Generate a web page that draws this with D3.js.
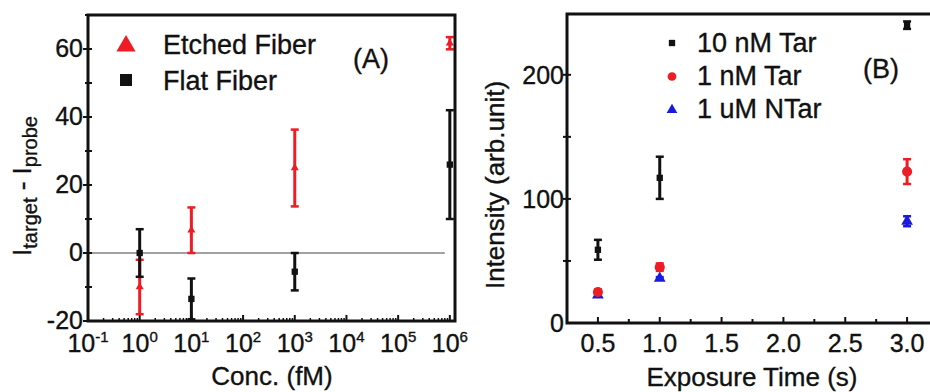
<!doctype html>
<html lang="en">
  <head>
    <meta charset="UTF-8"/>
    <title>Fiber sensor</title>
    <script src="https://cdnjs.cloudflare.com/ajax/libs/d3/7.8.5/d3.min.js"></script>
    <style>
      body { margin: 0; background: #fff; }
      svg text { font-family: "Liberation Sans", Arial, sans-serif; fill: #111; stroke: #111; stroke-width: 0.35; }
    </style>
  </head>
  <body>
    <svg id="chart" width="930" height="392"></svg>
    <script>
      // panel A : conc (fM) vs Itarget - Iprobe
      var concs = [1, 10, 1000, 1000000];
      var etchedMean = [-10, 6.7, 25, 61.7];
      var etchedErr = [8, 6.7, 11.3, 1.8];
      var flatMean = [0, -13.5, -5.5, 26];
      var flatErr = [7, 6, 5.5, 16];
      var decadeTicks = [-1, 0, 1, 2, 3, 4, 5, 6];
      var yTicksA = [-20, 0, 20, 40, 60];

      // panel B : exposure time vs intensity
      var times = [0.5, 1.0, 3.0];
      var tar10Mean = [59, 117, 240];
      var tar10Err = [8, 17, 3];
      var tar1Mean = [25, 45, 122];
      var tar1Err = [2, 3, 10];
      var ntarMean = [22.5, 36, 82];
      var ntarErr = [1, 1, 4];
      var xTicksB = [0.5, 1.0, 1.5, 2.0, 2.5, 3.0];
      var yTicksB = [0, 100, 200];

      var svg = d3.select("#chart");
      var RED = "#ee1c24", BLUE = "#1a1adf", BLACK = "#111";
      var TICK_FS = 25, TITLE_FS = 26, LEG_FS = 27;

      // ---------- panel A ----------
      var xA = d3.scaleLog().domain([0.1, Math.pow(10, 6.1)]).range([88, 455]);
      var yA = d3.scaleLinear().domain([-20, 70]).range([321, 15]);
      var gA = svg.append("g");

      // zero line
      gA.append("line")
        .attr("x1", xA(0.1)).attr("x2", xA(8e5))
        .attr("y1", yA(0)).attr("y2", yA(0))
        .attr("stroke", "#444").attr("stroke-width", 1.2);

      // minor x ticks (inward)
      var minorA = [];
      for (var k = -1; k <= 5; k++) for (var m = 2; m <= 9; m++) minorA.push(m * Math.pow(10, k));
      gA.selectAll(".mxa").data(minorA).enter().append("line")
        .attr("x1", d => xA(d)).attr("x2", d => xA(d))
        .attr("y1", yA(-20)).attr("y2", yA(-20) - 3)
        .attr("stroke", BLACK).attr("stroke-width", 1.5);
      gA.selectAll(".jxa").data(decadeTicks).enter().append("line")
        .attr("x1", d => xA(Math.pow(10, d))).attr("x2", d => xA(Math.pow(10, d)))
        .attr("y1", yA(-20)).attr("y2", yA(-20) - 6)
        .attr("stroke", BLACK).attr("stroke-width", 2);

      // y ticks (crossing)
      gA.selectAll(".ya").data(d3.range(-20, 71, 10)).enter().append("line")
        .attr("x1", d => d % 20 == 0 ? xA.range()[0] - 5 : xA.range()[0] - 3)
        .attr("x2", d => xA.range()[0] + 4)
        .attr("y1", d => yA(d)).attr("y2", d => yA(d))
        .attr("stroke", BLACK).attr("stroke-width", 2);

      // x tick labels 10^n
      var xlab = gA.selectAll(".xla").data(decadeTicks).enter().append("text")
        .attr("x", d => xA(Math.pow(10, d))).attr("y", 352)
        .attr("text-anchor", "middle").attr("font-size", TICK_FS);
      xlab.append("tspan").text("10");
      xlab.append("tspan").attr("dy", -10).attr("font-size", 15).text(d => String(d));

      gA.selectAll(".yla").data(yTicksA).enter().append("text")
        .attr("x", 83).attr("y", d => yA(d) + 8)
        .attr("text-anchor", "end").attr("font-size", TICK_FS)
        .text(d => d);

      function errorBars(g, xs, means, errs, xs_, ys_, color, cap) {
        var data = xs.map((x, i) => ({x: x, m: means[i], e: errs[i]}));
        g.selectAll(null).data(data).enter().append("line")
          .attr("x1", d => xs_(d.x)).attr("x2", d => xs_(d.x))
          .attr("y1", d => ys_(d.m - d.e)).attr("y2", d => ys_(d.m + d.e))
          .attr("stroke", color).attr("stroke-width", 3);
        [-1, 1].forEach(s => {
          g.selectAll(null).data(data).enter().append("line")
            .attr("x1", d => xs_(d.x) - cap).attr("x2", d => xs_(d.x) + cap)
            .attr("y1", d => ys_(d.m + s * d.e)).attr("y2", d => ys_(d.m + s * d.e))
            .attr("stroke", color).attr("stroke-width", 2.5);
        });
        return data;
      }

      var tri = d3.symbol().type(d3.symbolTriangle);
      var sq = d3.symbol().type(d3.symbolSquare);
      var circ = d3.symbol().type(d3.symbolCircle);

      var eData = errorBars(gA, concs, etchedMean, etchedErr, xA, yA, RED, 4);
      gA.selectAll(null).data(eData).enter().append("path")
        .attr("d", tri.size(28))
        .attr("transform", d => "translate(" + xA(d.x) + "," + yA(d.m) + ")")
        .attr("fill", RED);
      var fData = errorBars(gA, concs, flatMean, flatErr, xA, yA, BLACK, 4);
      gA.selectAll(null).data(fData).enter().append("path")
        .attr("d", sq.size(40))
        .attr("transform", d => "translate(" + xA(d.x) + "," + yA(d.m) + ")")
        .attr("fill", BLACK);

      // frame
      gA.append("rect")
        .attr("x", xA.range()[0]).attr("y", yA.range()[1])
        .attr("width", xA.range()[1] - xA.range()[0])
        .attr("height", yA.range()[0] - yA.range()[1])
        .attr("fill", "none").attr("stroke", BLACK).attr("stroke-width", 3);

      // legend A
      gA.append("path").attr("d", tri.size(160))
        .attr("transform", "translate(126,46)").attr("fill", RED);
      gA.append("rect").attr("x", 120).attr("y", 74).attr("width", 12).attr("height", 12).attr("fill", BLACK);
      gA.append("text").attr("x", 163).attr("y", 54).attr("font-size", LEG_FS).text("Etched Fiber");
      gA.append("text").attr("x", 163).attr("y", 90).attr("font-size", LEG_FS).text("Flat Fiber");
      gA.append("text").attr("x", 353).attr("y", 68).attr("font-size", LEG_FS).text("(A)");

      var yt = gA.append("text")
        .attr("transform", "translate(31,186) rotate(-90)")
        .attr("text-anchor", "middle").attr("font-size", TITLE_FS);
      yt.append("tspan").text("I");
      yt.append("tspan").attr("dy", 6).attr("font-size", 20).text("target");
      yt.append("tspan").attr("dy", -6).text(" - I");
      yt.append("tspan").attr("dy", 6).attr("font-size", 20).text("probe");

      gA.append("text").attr("x", 272).attr("y", 385)
        .attr("text-anchor", "middle").attr("font-size", TITLE_FS).text("Conc. (fM)");

      // ---------- panel B ----------
      var xB = d3.scaleLinear().domain([0.25, 3.25]).range([567, 938]);
      var yB = d3.scaleLinear().domain([0, 249]).range([323, 14]);
      var gB = svg.append("g");

      gB.selectAll(".mxb").data(d3.range(0.5, 3.01, 0.25)).enter().append("line")
        .attr("x1", d => xB(d)).attr("x2", d => xB(d))
        .attr("y1", yB(0)).attr("y2", d => Math.abs(d * 2 - Math.round(d * 2)) < 1e-6 ? yB(0) - 6 : yB(0) - 4)
        .attr("stroke", BLACK).attr("stroke-width", 2);
      gB.selectAll(".myb").data([50, 100, 150, 200]).enter().append("line")
        .attr("x1", xB.range()[0] - 4).attr("x2", xB.range()[0] + 4)
        .attr("y1", d => yB(d)).attr("y2", d => yB(d))
        .attr("stroke", BLACK).attr("stroke-width", 2);

      gB.selectAll(".xlb").data(xTicksB).enter().append("text")
        .attr("x", d => xB(d)).attr("y", 352)
        .attr("text-anchor", "middle").attr("font-size", TICK_FS)
        .text(d => d.toFixed(1));
      gB.selectAll(".ylb").data(yTicksB).enter().append("text")
        .attr("x", 564).attr("y", d => yB(d) + 9)
        .attr("text-anchor", "end").attr("font-size", TICK_FS)
        .text(d => d);

      var d10 = errorBars(gB, times, tar10Mean, tar10Err, xB, yB, BLACK, 4);
      gB.selectAll(null).data(d10).enter().append("path")
        .attr("d", sq.size(40))
        .attr("transform", d => "translate(" + xB(d.x) + "," + yB(d.m) + ")").attr("fill", BLACK);
      var dN = errorBars(gB, times, ntarMean, ntarErr, xB, yB, BLUE, 4);
      gB.selectAll(null).data(dN).enter().append("path")
        .attr("d", tri.size(60))
        .attr("transform", d => "translate(" + xB(d.x) + "," + yB(d.m) + ")").attr("fill", BLUE);
      var d1 = errorBars(gB, times, tar1Mean, tar1Err, xB, yB, RED, 4);
      gB.selectAll(null).data(d1).enter().append("path")
        .attr("d", circ.size(80))
        .attr("transform", d => "translate(" + xB(d.x) + "," + yB(d.m) + ")").attr("fill", RED);

      gB.append("rect")
        .attr("x", xB.range()[0]).attr("y", yB.range()[1])
        .attr("width", xB.range()[1] - xB.range()[0])
        .attr("height", yB.range()[0] - yB.range()[1])
        .attr("fill", "none").attr("stroke", BLACK).attr("stroke-width", 3);

      // legend B
      var legB = [
        {label: "10 nM Tar", sym: sq, size: 40, color: BLACK},
        {label: "1 nM Tar", sym: circ, size: 60, color: RED},
        {label: "1 uM NTar", sym: tri, size: 50, color: BLUE}
      ];
      legB.forEach((d, i) => {
        gB.append("path").attr("d", d.sym.size(d.size))
          .attr("transform", "translate(672," + (43 + i * 33.5) + ")").attr("fill", d.color);
        gB.append("text").attr("x", 697).attr("y", 52 + i * 33).attr("font-size", LEG_FS).text(d.label);
      });
      gB.append("text").attr("x", 863).attr("y", 78).attr("font-size", LEG_FS).text("(B)");

      gB.append("text").attr("transform", "translate(504,185) rotate(-90)")
        .attr("text-anchor", "middle").attr("font-size", TITLE_FS).text("Intensity (arb.unit)");
      gB.append("text").attr("x", 752).attr("y", 386)
        .attr("text-anchor", "middle").attr("font-size", TITLE_FS).text("Exposure Time (s)");
    </script>
  </body>
</html>
